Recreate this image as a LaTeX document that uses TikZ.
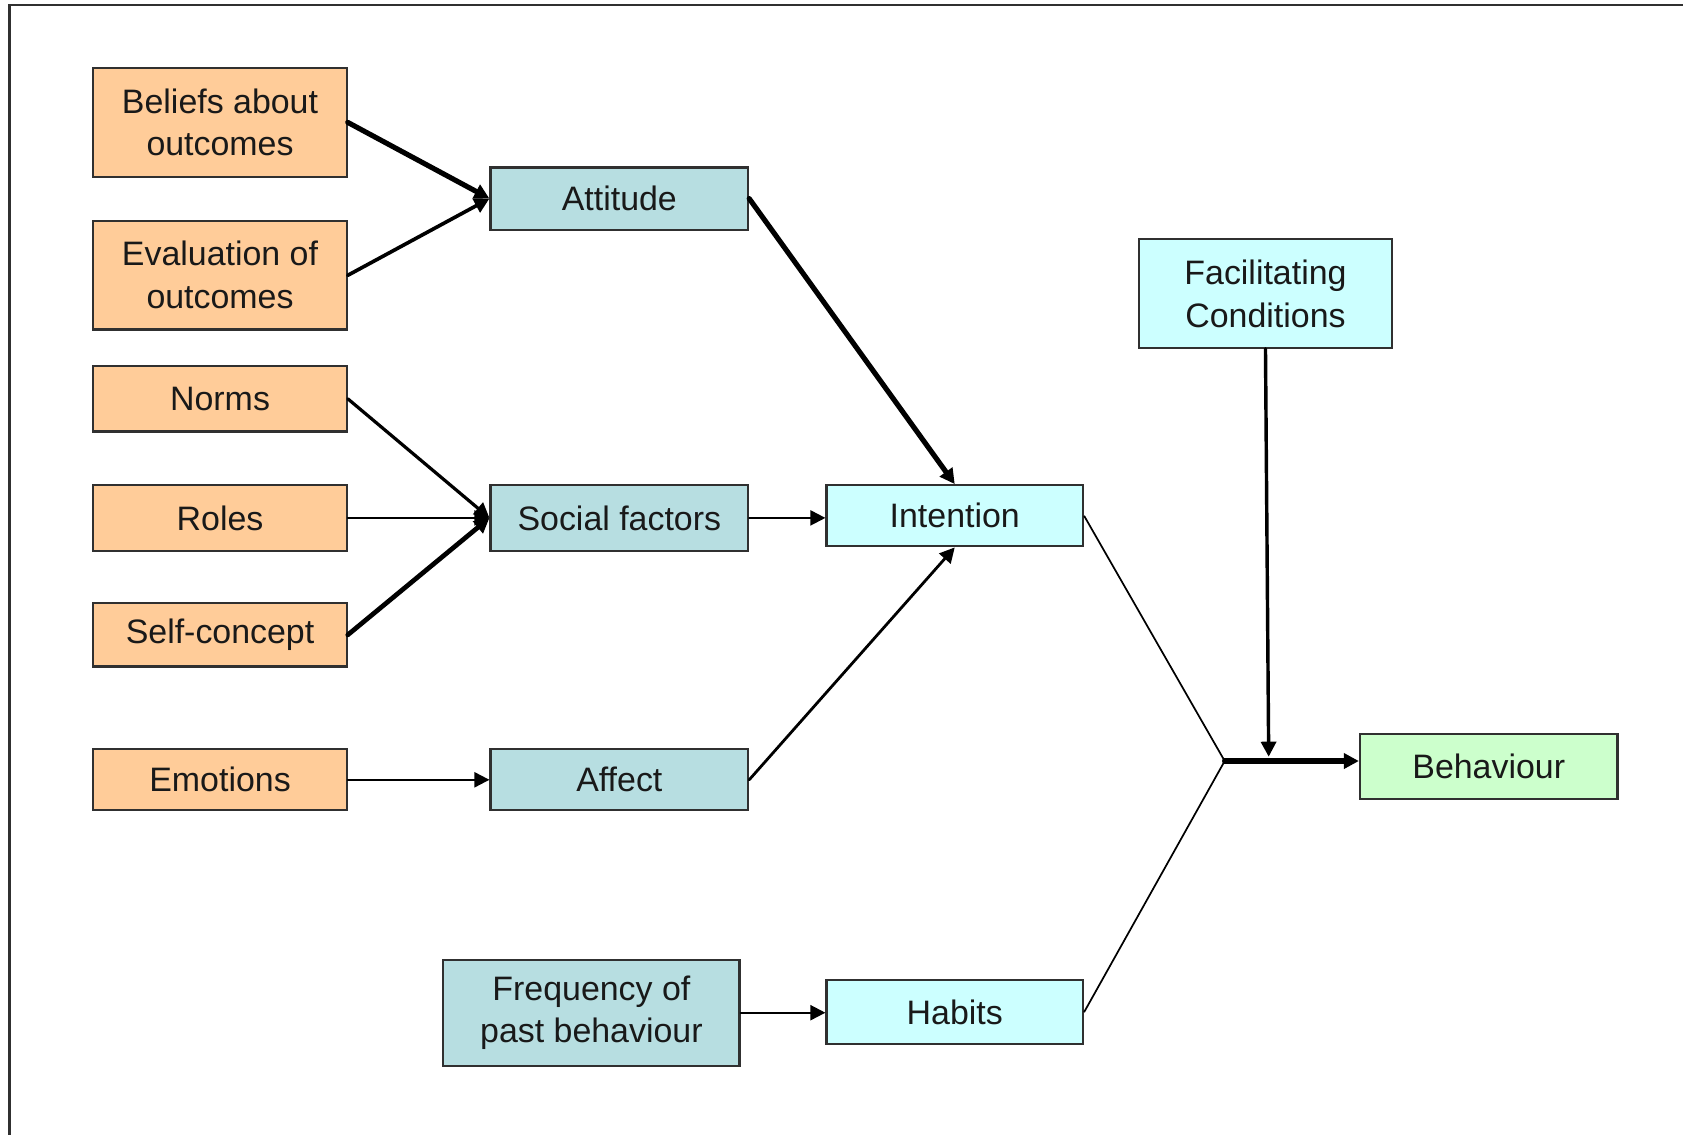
\documentclass[tikz,border=0pt]{standalone}
\usepackage{fontspec}
\setmainfont{Liberation Sans}
\usetikzlibrary{arrows.meta,calc}
\definecolor{orangebox}{HTML}{FFCC99}
\definecolor{tealbox}{HTML}{B7DEE1}
\definecolor{cyanbox}{HTML}{CCFFFF}
\definecolor{greenbox}{HTML}{CCFFCC}
\definecolor{edge}{HTML}{303030}
\tikzset{
  box/.style={draw=edge, line width=1pt, inner sep=0pt, align=center,
    font=\fontsize{15.8pt}{20pt}\selectfont, text=black!90},
  src/.style={box, fill=orangebox, minimum width=118pt},
  mid/.style={box, fill=tealbox},
  cyn/.style={box, fill=cyanbox},
  grn/.style={box, fill=greenbox},
  arr/.style={-{Triangle[length=7pt,width=7pt]}, line cap=round},
  link/.style={line width=0.8pt},
}
\begin{document}
\begin{tikzpicture}[x=0.5pt,y=-0.5pt]
\useasboundingbox (0,0) rectangle (1568,1057);
% frame
\draw[edge, line width=1.1pt] (1580,4.5) -- (9,4.5) -- (9,1070);
% left column
\node[src, minimum height=51pt]   (bel)  at (205,114)   {Beliefs about\\outcomes};
\node[src, minimum height=50.5pt] (eval) at (205,256.5) {Evaluation of\\outcomes};
\node[src, minimum height=30.5pt] (norm) at (205,371.5) {Norms};
\node[src, minimum height=30.5pt] (role) at (205,482.5) {Roles};
\node[src, minimum height=29.5pt] (self) at (205,591.5) {Self-concept};
\node[src, minimum height=28.5pt] (emo)  at (205,726.5) {Emotions};
% middle column
\node[mid, minimum width=120pt, minimum height=29pt]   (att)  at (577,185)   {Attitude};
\node[mid, minimum width=120pt, minimum height=30.5pt] (soc)  at (577,482.5) {Social factors};
\node[mid, minimum width=120pt, minimum height=28.5pt] (aff)  at (577,726.5) {Affect};
\node[mid, minimum width=138pt, minimum height=49.5pt] (freq) at (551,943.5) {Frequency of\\past behaviour};
% right part
\node[cyn, minimum width=119.5pt, minimum height=28.5pt] (int) at (889.5,480.5) {Intention};
\node[cyn, minimum width=119.5pt, minimum height=30pt]   (hab) at (889.5,943)   {Habits};
\node[cyn, minimum width=118pt, minimum height=50.5pt]   (fac) at (1179,273.5)  {Facilitating\\Conditions};
\node[grn, minimum width=120pt, minimum height=30pt]     (beh) at (1387,714)    {Behaviour};
\coordinate (J) at (1141,709);
\coordinate (F) at (1182,705);
% connectors
\draw[arr, line width=2.4pt] (bel.east) -- (att.west);
\draw[arr, line width=1.7pt] (eval.east) -- (att.west);
\draw[arr, line width=1.5pt] (norm.east) -- (soc.west);
\draw[arr, line width=1pt]   (role.east) -- (soc.west);
\draw[arr, line width=2.2pt] (self.east) -- (soc.west);
\draw[arr, line width=1pt]   (emo.east) -- (aff.west);
\draw[arr, line width=2.4pt] (att.east) -- (int.north);
\draw[arr, line width=1pt]   (soc.east) -- (soc.east -| int.west);
\draw[arr, line width=1.3pt] (aff.east) -- (int.south);
\draw[arr, line width=1pt]   (freq.east) -- (freq.east -| hab.west);
\draw[link] (int.east) -- (J);
\draw[link] (hab.east) -- (J);
\draw[arr, line width=2.5pt] (J) -- (J -| beh.west);
\draw[arr, line width=1.6pt] (fac.south) -- (F);
\end{tikzpicture}
\end{document}
